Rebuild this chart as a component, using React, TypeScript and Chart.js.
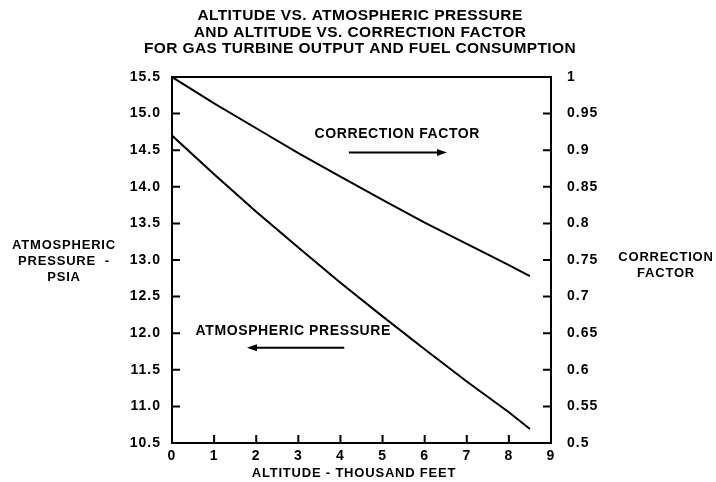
import React, { useEffect, useRef } from "react";
import { Chart, registerables } from "chart.js";

Chart.register(...registerables);

// ---- data ----
const altitude = [0, 1, 2, 3, 4, 5, 6, 7, 8, 8.5];
const pressure = [14.7, 14.17, 13.66, 13.17, 12.69, 12.23, 11.78, 11.34, 10.92, 10.69];
const correction = [1.0, 0.964, 0.93, 0.896, 0.864, 0.832, 0.801, 0.772, 0.743, 0.728];

const xTicks = [0, 1, 2, 3, 4, 5, 6, 7, 8, 9];
const pressureTicks = [10.5, 11.0, 11.5, 12.0, 12.5, 13.0, 13.5, 14.0, 14.5, 15.0, 15.5];
const correctionTicks = [0.5, 0.55, 0.6, 0.65, 0.7, 0.75, 0.8, 0.85, 0.9, 0.95, 1];

const titleLines = [
  "ALTITUDE VS. ATMOSPHERIC PRESSURE",
  "AND ALTITUDE VS. CORRECTION FACTOR",
  "FOR GAS TURBINE OUTPUT AND FUEL CONSUMPTION",
];
const leftTitle = ["ATMOSPHERIC", "PRESSURE  -", "PSIA"];
const rightTitle = ["CORRECTION", "FACTOR"];
const xTitle = "ALTITUDE - THOUSAND FEET";

// annotation labels in data coordinates (x: altitude, y: pressure axis)
const annotationLabels = [
  { text: "CORRECTION FACTOR", x: 5.35, y: 14.72, arrowFrom: 4.2, arrowTo: 6.53, arrowY: 14.47 },
  { text: "ATMOSPHERIC PRESSURE", x: 2.88, y: 12.03, arrowFrom: 4.09, arrowTo: 1.78, arrowY: 11.8 },
];

const FONT = '"Liberation Sans", Arial, Helvetica, sans-serif';

const decorPlugin = {
  id: "decor",
  beforeDraw(chart: any) {
    (chart.ctx as any).letterSpacing = "1px";
  },
  afterDraw(chart: any) {
    const ctx = chart.ctx as any;
    const { left, right, top, bottom } = chart.chartArea;
    const xs = chart.scales.x;
    const ys = chart.scales.y;
    const y1 = chart.scales.y1;
    ctx.save();
    ctx.strokeStyle = "#000";
    ctx.fillStyle = "#000";
    ctx.lineWidth = 2;
    // frame
    ctx.strokeRect(left, top, right - left, bottom - top);
    // inward ticks
    const tl = 8;
    ctx.beginPath();
    xTicks.forEach((v) => {
      const px = xs.getPixelForValue(v);
      ctx.moveTo(px, bottom);
      ctx.lineTo(px, bottom - tl);
    });
    pressureTicks.forEach((v) => {
      const py = ys.getPixelForValue(v);
      ctx.moveTo(left, py);
      ctx.lineTo(left + tl, py);
    });
    correctionTicks.forEach((v) => {
      const py = y1.getPixelForValue(v);
      ctx.moveTo(right, py);
      ctx.lineTo(right - tl, py);
    });
    ctx.stroke();

    ctx.textAlign = "center";
    ctx.textBaseline = "middle";
    // title
    ctx.letterSpacing = "0.4px";
    ctx.font = `bold 15.5px ${FONT}`;
    titleLines.forEach((t, i) => ctx.fillText(t, 360, 16 + i * 16.5));
    // axis titles
    ctx.font = `bold 13px ${FONT}`;
    ctx.letterSpacing = "0.8px";
    leftTitle.forEach((t, i) => ctx.fillText(t, 64, 245 + i * 16));
    rightTitle.forEach((t, i) => ctx.fillText(t, 666, 257 + i * 16));
    ctx.fillText(xTitle, 354, 473);
    // annotations
    ctx.font = `bold 14px ${FONT}`;
    ctx.letterSpacing = "0.6px";
    annotationLabels.forEach((a) => {
      ctx.fillText(a.text, xs.getPixelForValue(a.x), ys.getPixelForValue(a.y));
      const x0 = xs.getPixelForValue(a.arrowFrom);
      const x1 = xs.getPixelForValue(a.arrowTo);
      const ay = ys.getPixelForValue(a.arrowY);
      const dir = Math.sign(x1 - x0);
      ctx.lineWidth = 2;
      ctx.beginPath();
      ctx.moveTo(x0, ay);
      ctx.lineTo(x1 - dir * 6, ay);
      ctx.stroke();
      ctx.beginPath();
      ctx.moveTo(x1, ay);
      ctx.lineTo(x1 - dir * 10, ay - 3.5);
      ctx.lineTo(x1 - dir * 10, ay + 3.5);
      ctx.closePath();
      ctx.fill();
    });
    ctx.restore();
    ctx.letterSpacing = "0px";
  },
};

export default function App() {
  const canvasRef = useRef<HTMLCanvasElement | null>(null);

  useEffect(() => {
    const canvas = canvasRef.current;
    if (!canvas) return;
    const tickFont = { family: FONT, size: 14, weight: "bold" as const };
    const chart = new Chart(canvas, {
      type: "line",
      data: {
        datasets: [
          {
            label: "Atmospheric Pressure",
            data: altitude.map((a, i) => ({ x: a, y: pressure[i] })),
            yAxisID: "y",
            borderColor: "#000",
            borderWidth: 2,
            pointRadius: 0,
            tension: 0,
          },
          {
            label: "Correction Factor",
            data: altitude.map((a, i) => ({ x: a, y: correction[i] })),
            yAxisID: "y1",
            borderColor: "#000",
            borderWidth: 2,
            pointRadius: 0,
            tension: 0,
          },
        ],
      },
      options: {
        animation: false,
        responsive: true,
        maintainAspectRatio: false,
        layout: { padding: { top: 77, left: 0, right: 0, bottom: 0 } },
        plugins: { legend: { display: false }, tooltip: { enabled: false }, title: { display: false } },
        scales: {
          x: {
            type: "linear",
            min: 0,
            max: 9,
            grid: { display: false, drawTicks: false },
            border: { display: false },
            afterBuildTicks: (s: any) => {
              s.ticks = xTicks.map((v) => ({ value: v }));
            },
            afterFit: (s: any) => {
              s.height = 39;
            },
            ticks: { color: "#000", font: tickFont, padding: 5, maxRotation: 0, autoSkip: false, callback: (v: any) => String(v) },
          },
          y: {
            type: "linear",
            position: "left",
            min: 10.5,
            max: 15.5,
            grid: { display: false, drawTicks: false },
            border: { display: false },
            afterBuildTicks: (s: any) => {
              s.ticks = pressureTicks.map((v) => ({ value: v }));
            },
            afterFit: (s: any) => {
              s.width = 172;
            },
            ticks: { color: "#000", font: tickFont, padding: 11, autoSkip: false, callback: (v: any) => Number(v).toFixed(1) },
          },
          y1: {
            type: "linear",
            position: "right",
            min: 0.5,
            max: 1,
            grid: { display: false, drawTicks: false },
            border: { display: false },
            afterBuildTicks: (s: any) => {
              s.ticks = correctionTicks.map((v) => ({ value: v }));
            },
            afterFit: (s: any) => {
              s.width = 165;
            },
            ticks: { color: "#000", font: tickFont, padding: 16, autoSkip: false, callback: (v: any) => String(+Number(v).toFixed(2)) },
          },
        },
      },
      plugins: [decorPlugin],
    });
    return () => chart.destroy();
  }, []);

  return (
    <div style={{ position: "absolute", left: 0, top: 0, width: 716, height: 482, background: "#fff" }}>
      <canvas ref={canvasRef} />
    </div>
  );
}
